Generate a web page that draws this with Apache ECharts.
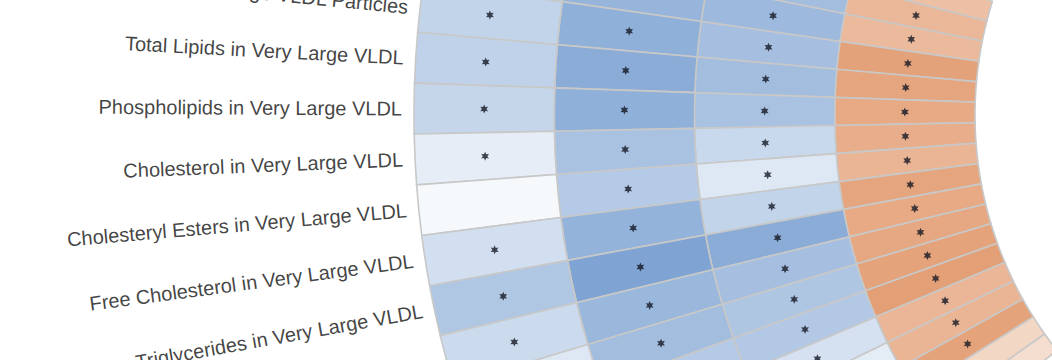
<!DOCTYPE html>
<html><head><meta charset="utf-8">
<script src="https://cdn.jsdelivr.net/npm/echarts@6/dist/echarts.min.js"></script>
<style>html,body{margin:0;padding:0;background:#fff}#c{width:1052px;height:360px}</style>
</head><body><div id="c"></div>
<script>
// Rows (angular categories), in drawing order; rows whose label lies outside the crop are left unnamed
const rowNames = [
  "", "", "",
  "Concentration of Very Large VLDL Particles",
  "Total Lipids in Very Large VLDL",
  "Phospholipids in Very Large VLDL",
  "Cholesterol in Very Large VLDL",
  "Cholesteryl Esters in Very Large VLDL",
  "Free Cholesterol in Very Large VLDL",
  "Triglycerides in Very Large VLDL",
  "", "", "", "", "", "", "", ""
];
// Effect values per ring (null = cell outside the visible crop)
const ring1Values = [null, null, -0.40, -0.41, -0.42, -0.39, -0.17, -0.06, -0.30, -0.53, -0.35, -0.22, null, null, null, null, null, null]; // outermost
const ring2Values = [null, null, -0.70, -0.75, -0.78, -0.75, -0.58, -0.50, -0.72, -0.86, -0.68, -0.62, -0.50, null, null, null, null, null];
const ring3Values = [null, -0.62, -0.66, -0.60, -0.62, -0.58, -0.36, -0.22, -0.41, -0.78, -0.60, -0.54, -0.52, -0.28, -0.18, null, null, null];
const ring4Values = [0.57, 0.64, 0.62, 0.83, 0.80, 0.76, 0.72, 0.66, 0.80, 0.76, 0.78, 0.82, 0.86, 0.65, 0.66, 0.82, 0.36, 0.30]; // innermost
// Significance markers (1 = star)
const ring1Stars = [0, 0, 1, 1, 1, 1, 1, 0, 1, 1, 1, 1, 0, 0, 0, 0, 0, 0];
const ring2Stars = [0, 0, 1, 1, 1, 1, 1, 1, 1, 1, 1, 1, 1, 0, 0, 0, 0, 0];
const ring3Stars = [0, 1, 1, 1, 1, 1, 1, 1, 1, 1, 1, 1, 1, 1, 1, 0, 0, 0];
const ring4Stars = [1, 1, 1, 1, 1, 1, 1, 1, 1, 1, 1, 1, 1, 1, 1, 1, 1, 1];
const TOTAL_ROWS = 116;

const START_ANGLE = 162.54;
const STEP = 360 / TOTAL_ROWS;
const angleData = rowNames.concat(new Array(TOTAL_ROWS - rowNames.length).fill(''));

// inner -> outer
const rings = [
  {name: 'Ring 4', values: ring4Values, stars: ring4Stars},
  {name: 'Ring 3', values: ring3Values, stars: ring3Stars},
  {name: 'Ring 2', values: ring2Values, stars: ring2Stars},
  {name: 'Ring 1', values: ring1Values, stars: ring1Stars}
];

function starPath() {
  let d = 'path://';
  for (let j = 0; j < 12; j++) {
    const a = Math.PI / 2 + j * Math.PI / 6;
    const r = j % 2 ? 0.5 : 1;
    d += (j ? 'L' : 'M') + (r * Math.cos(a)).toFixed(3) + ',' + (-r * Math.sin(a)).toFixed(3);
  }
  return d + 'Z';
}

const series = [];
rings.forEach(function (ring) {
  const data = [];
  ring.values.forEach(function (v, i) { if (v !== null) data.push([1, i, v]); });
  series.push({
    type: 'bar', name: ring.name, coordinateSystem: 'polar', stack: 'rings',
    encode: {radius: 0, angle: 1},
    barCategoryGap: '0%',
    itemStyle: {borderColor: '#c8c8c8', borderWidth: 1.6},
    emphasis: {disabled: true},
    silent: true,
    data: data
  });
});
const starData = [];
rings.forEach(function (ring, ri) {
  ring.stars.forEach(function (s, i) {
    if (s && ring.values[i] !== null) starData.push([ri + 0.5, i]);
  });
});
series.push({
  type: 'scatter', coordinateSystem: 'polar', symbol: starPath(), symbolSize: 9,
  symbolKeepAspect: true, itemStyle: {color: '#141824'}, silent: true, z: 5,
  encode: {radius: 0, angle: 1}, data: starData
});
const labelData = [];
rowNames.forEach(function (n, i) {
  if (!n) return;
  const theta = START_ANGLE + (i + 0.5) * STEP - 180;
  labelData.push({name: n, value: [4, i], label: {rotate: theta * 0.85}});
});
series.push({
  type: 'scatter', coordinateSystem: 'polar', symbolSize: 0, silent: true, z: 6,
  itemStyle: {color: 'transparent'},
  encode: {radius: 0, angle: 1},
  label: {show: true, position: 'left', distance: 12, formatter: '{b}',
    fontSize: 20, color: '#111111', fontFamily: 'Liberation Sans, Arial, sans-serif'},
  data: labelData
});

const chart = echarts.init(document.getElementById('c'), null, {renderer: 'svg'});
chart.setOption({
  animation: false,
  backgroundColor: '#ffffff',
  polar: {center: [1354, 115], radius: [379, 940]},
  angleAxis: {
    type: 'category', data: angleData, startAngle: START_ANGLE, clockwise: false,
    axisLine: {show: false}, axisTick: {show: false}, axisLabel: {show: false}, splitLine: {show: false}
  },
  radiusAxis: {
    type: 'value', min: 0, max: 4,
    axisLine: {show: false}, axisTick: {show: false}, axisLabel: {show: false}, splitLine: {show: false}
  },
  visualMap: {
    type: 'continuous', show: false, min: -1, max: 1, dimension: 2, seriesIndex: [0, 1, 2, 3],
    inRange: {color: ['#6a95cc', '#ffffff', '#df8f5f']}
  },
  series: series
});
</script></body></html>
